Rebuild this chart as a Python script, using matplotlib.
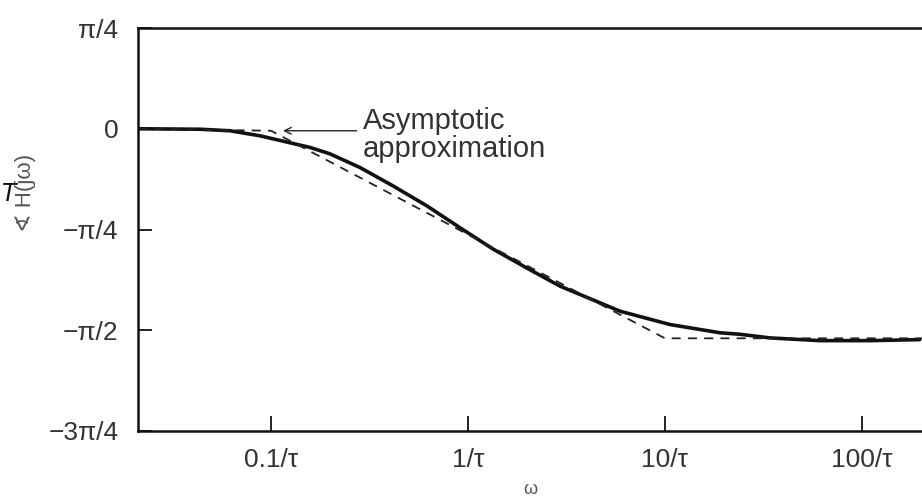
import numpy as np
import matplotlib
matplotlib.use("Agg")
import matplotlib.pyplot as plt

# ---- data (omega in units of 1/tau, phase in units of pi/4) ----
omega_exact = [0.0211, 0.0437, 0.0619, 0.0879, 0.158, 0.199, 0.283, 0.416,
               0.619, 0.910, 1.340, 1.992, 2.931, 5.916, 10.59,
               19.01, 24.03, 34.12, 61.24, 109.9, 196.8]
phase_exact = [0.0, -0.005, -0.02, -0.07, -0.186, -0.249, -0.385, -0.567,
               -0.766, -0.982, -1.194, -1.383, -1.562, -1.811,
               -1.943, -2.025, -2.040, -2.076, -2.103, -2.103, -2.093]

omega_asym = [0.0211, 0.1, 10.0, 202.0]
phase_asym = [0.0, -0.02, -2.08, -2.08]

xtick_vals = [0.1, 1, 10, 100]
xtick_labels = ["0.1/\u03c4", "1/\u03c4", "10/\u03c4", "100/\u03c4"]
ytick_vals = [1, 0, -1, -2, -3]          # units of pi/4
ytick_labels = ["\u03c0/4", "0", "\u2212\u03c0/4", "\u2212\u03c0/2", "\u22123\u03c0/4"]

q = np.pi / 4
W, H = 922, 499
fig = plt.figure(figsize=(W / 100, H / 100), dpi=100)
plt.rcParams['font.family'] = ['Liberation Sans', 'DejaVu Sans']

left, right, top, bottom = 138, 922, 28, 431
ax = fig.add_axes([left / W, 1 - bottom / H, (right - left) / W, (bottom - top) / H])

ax.semilogx(omega_exact, np.array(phase_exact) * q, color='#111111', lw=2.6,
            solid_capstyle='round', solid_joinstyle='round')
ax.semilogx(omega_asym, np.array(phase_asym) * q, color='#222222', lw=1.3,
            ls=(0, (5, 4)))

ax.set_xlim(0.0211, 202)
ax.set_ylim(-3 * q, 1 * q)

ax.set_xticks(xtick_vals)
ax.set_xticklabels(xtick_labels)
ax.set_yticks(np.array(ytick_vals) * q)
ax.set_yticklabels(ytick_labels)
ax.minorticks_off()
ax.tick_params(axis='x', direction='in', length=11, width=1.3, pad=12,
               labelsize=19, colors='#111111', labelcolor='#333333')
ax.tick_params(axis='y', direction='in', length=10, width=1.3, pad=14,
               labelsize=19, colors='#111111', labelcolor='#333333')

for s in ['left', 'top', 'bottom']:
    ax.spines[s].set_linewidth(1.8)
    ax.spines[s].set_color('#111111')
ax.spines['right'].set_visible(False)

# annotation
ax.annotate("", xy=(0.115, -0.02 * q), xytext=(0.272, -0.02 * q),
            arrowprops=dict(arrowstyle='->', color='#222222', lw=1.0,
                            mutation_scale=12, shrinkA=0, shrinkB=0))
ax.text(0.293, -0.06 * q, "Asymptotic\napproximation", fontsize=21,
        color='#333333', ha='left', va='center', linespacing=1.0)

# axis labels
fig.text(25 / W, 1 - 193 / H, "\u2222 H(j\u03c9)", rotation=90, fontsize=16,
         color='#555555', ha='center', va='center')
fig.text(9 / W, 1 - 194 / H, "T", fontsize=17, style='italic', color='#111111',
         ha='center', va='center', family=['DejaVu Sans'])
fig.text(530 / W, 1 - 490 / H, "\u03c9", fontsize=13, color='#555555',
         ha='center', va='center')

fig.savefig("out.png", dpi=100)
